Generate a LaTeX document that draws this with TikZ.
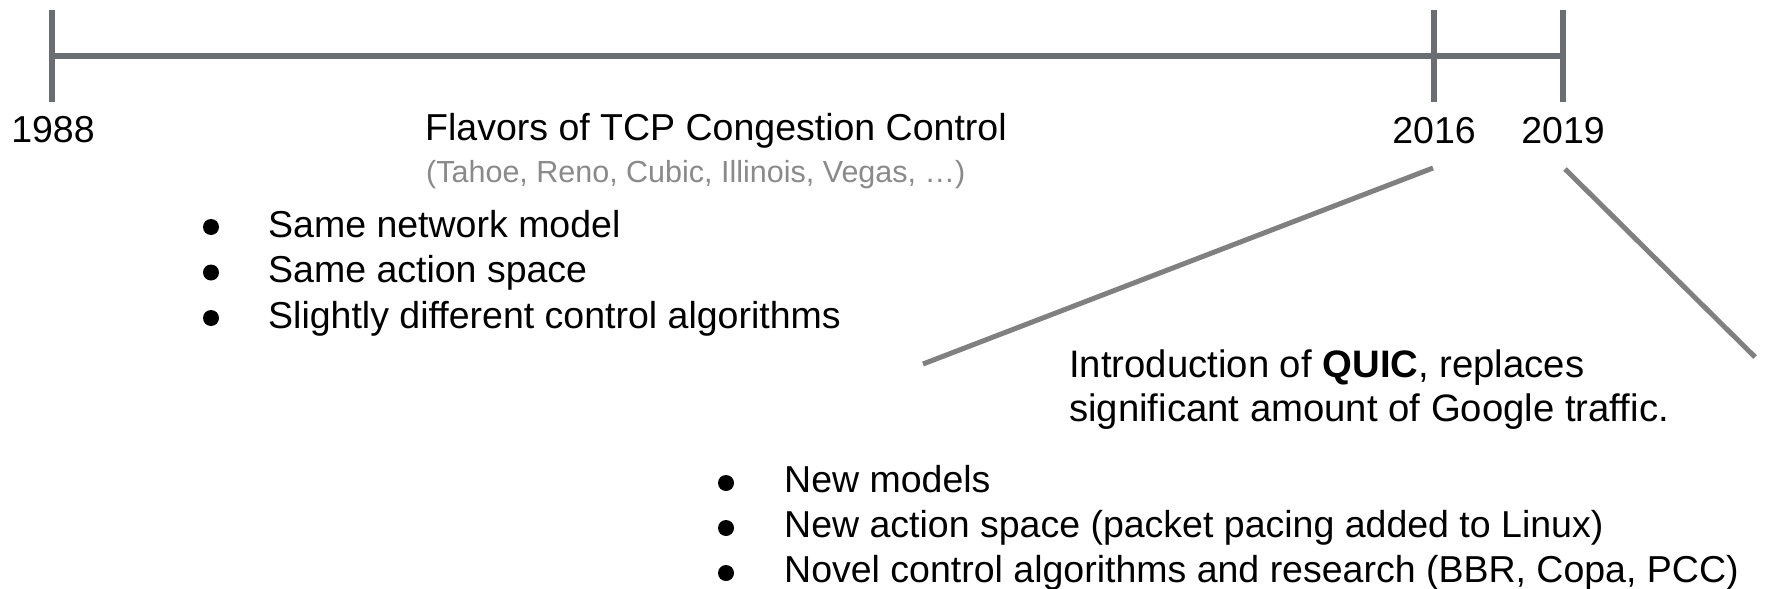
\documentclass[tikz,border=0pt]{standalone}
\usepackage{fontspec}
\setmainfont{Liberation Sans}
\definecolor{axisgray}{RGB}{106,109,114}
\definecolor{calloutgray}{RGB}{128,128,128}
\definecolor{subgray}{RGB}{138,138,138}
\begin{document}
\begin{tikzpicture}[x=1pt,y=-1pt,
  axis/.style={line width=6.5pt, draw=axisgray},
  callout/.style={line width=5pt, draw=calloutgray},
  txt/.style={inner sep=0pt, font=\fontsize{37.5}{45}\selectfont, text=black},
  quictxt/.style={inner sep=0pt, font=\fontsize{38.3}{45}\selectfont, text=black},
  subtxt/.style={inner sep=0pt, font=\fontsize{30.5}{36}\selectfont, text=subgray},
  dot/.style={circle, fill=black, inner sep=0pt, minimum size=16pt}]
\useasboundingbox (0,0) rectangle (1767,589);
\fill[white] (0,0) rectangle (1767,589);
% timeline
\coordinate (a0) at (52,56);
\coordinate (a1) at (1434,56);
\coordinate (a2) at (1563,56);
\draw[axis] (a0) -- (a2);
\foreach \t in {a0,a1,a2}{
  \draw[axis] ([yshift=46pt]\t) -- ([yshift=-46pt]\t);
}
% year labels
\node[txt, anchor=base] (y1988) at (53,142) {1988};
\node[txt, anchor=base] (y2016) at (1434,143) {2016};
\node[txt, anchor=base] (y2019) at (1563,143) {2019};
% title
\node[txt, anchor=base west] (title) at (425,140) {Flavors of TCP Congestion Control};
\node[subtxt, anchor=base west] (sub) at (426,182) {(Tahoe, Reno, Cubic, Illinois, Vegas, \dots)};
% list 1
\node[dot] (b11) at (211,227) {};
\node[dot] (b12) at (211,272.5) {};
\node[dot] (b13) at (211,318) {};
\node[txt, anchor=base west] (l11) at (268,237) {Same network model};
\node[txt, anchor=base west] (l12) at (268,282.5) {Same action space};
\node[txt, anchor=base west] (l13) at (268,328) {Slightly different control algorithms};
% callouts
\coordinate (c1a) at (1433,168);
\coordinate (c1b) at (923,364);
\coordinate (c2a) at (1565,169);
\coordinate (c2b) at (1755,357);
\draw[callout] (c1a) -- (c1b);
\draw[callout] (c2a) -- (c2b);
% QUIC
\node[quictxt, anchor=base west] (q1) at (1069,377) {Introduction of \textbf{QUIC}, replaces};
\node[quictxt, anchor=base west] (q2) at (1069,421) {significant amount of Google traffic.};
% list 2
\node[dot] (b21) at (726,483) {};
\node[dot] (b22) at (726,528) {};
\node[dot] (b23) at (726,573) {};
\node[txt, anchor=base west] (l21) at (784,492) {New models};
\node[txt, anchor=base west] (l22) at (784,537) {New action space (packet pacing added to Linux)};
\node[txt, anchor=base west] (l23) at (784,582) {Novel control algorithms and research (BBR, Copa, PCC)};
\end{tikzpicture}
\end{document}
